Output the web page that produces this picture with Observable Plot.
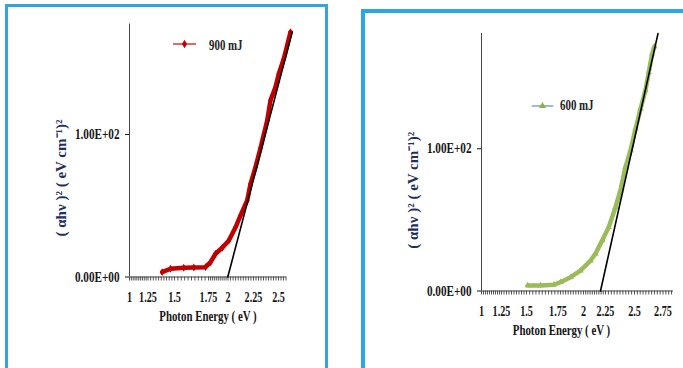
<!DOCTYPE html>
<html>
<head>
<meta charset="utf-8">
<script src="https://cdn.jsdelivr.net/npm/d3@7"></script>
<script src="https://cdn.jsdelivr.net/npm/@observablehq/plot@0.6"></script>
<style>
html, body { margin: 0; padding: 0; background: #fff; }
#page { position: relative; width: 683px; height: 368px; overflow: hidden; background: #fff; }
.panel { position: absolute; box-sizing: border-box; border: 3px solid #2ea6e6; }
#p1 { left: 5px; top: 4px; width: 323px; height: 420px; }
#p2 { left: 361px; top: 9px; width: 340px; height: 420px; border-width: 4px; }
.chart { position: absolute; top: 0; }
#c1 { left: 0; }
#c2 { left: 340px; }
#overlay { position: absolute; left: 0; top: 0; pointer-events: none; }
</style>
</head>
<body>
<div id="page">
  <div class="panel" id="p1"></div>
  <div class="panel" id="p2"></div>
  <div class="chart" id="c1"></div>
  <div class="chart" id="c2"></div>
</div>
<script>
// ---- data ----
const SERIES_LABELS = ["900 mJ", "600 mJ"];
const X_TICKS_900 = [1, 1.25, 1.5, 1.75, 2, 2.25, 2.5];
const X_TICKS_600 = [1, 1.25, 1.5, 1.75, 2, 2.25, 2.5, 2.75];
const Y_TICKS = [0, 100];
const X_TITLE = "Photon Energy ( eV )";
const Y_TITLE = "( αhν )² ( eV cm⁻¹)²";

// 900 mJ: photon energy (eV) and (αhν)²
const E900 = [1.384, 1.462, 1.568, 1.642, 1.728, 1.776, 1.84, 1.926, 2.008, 2.074, 2.123, 2.188, 2.221, 2.27, 2.32, 2.387, 2.42, 2.47, 2.503, 2.553, 2.587, 2.62];
const A900 = [3.4, 5.8, 6.5, 6.7, 6.9, 10.4, 16.3, 20.5, 25.6, 34.9, 43.2, 53.7, 65.4, 77.1, 90.5, 109.8, 123.9, 133.2, 142.6, 153.1, 162.5, 171.8];
const FIT900_E = [1.997, 2.637];
const FIT900_A = [0, 171.8];

// 600 mJ
const E600 = [1.51, 1.611, 1.717, 1.775, 1.873, 1.971, 2.08, 2.136, 2.2125, 2.278, 2.336, 2.379, 2.422, 2.466, 2.509, 2.553, 2.596, 2.625, 2.655, 2.675];
const A600 = [3.9, 3.9, 4.4, 6.2, 9.7, 14.4, 21.4, 26.2, 35.5, 44.9, 58.9, 70.7, 87.1, 98.8, 114.1, 128.1, 141.0, 153.9, 166.8, 171.9];
const FIT600_E = [2.193, 2.706];
const FIT600_A = [0, 180.9];

// ---- drawing ----
const FONT = "Liberation Serif";
const fmtE = v => {
  const [m, e] = v.toExponential(2).split("e");
  const n = +e;
  return m + "E" + (n < 0 ? "-" : "+") + String(Math.abs(n)).padStart(2, "0");
};

function makePanel(o) {
  const data = o.E.map((e, i) => ({e, a: o.A[i]}));
  const fit = o.FE.map((e, i) => ({e, a: o.FA[i]}));
  const minor = d3.range(o.ticks[0], o.xMax, 0.025);
  return Plot.plot({
    width: o.width, height: 368,
    marginLeft: o.mLeft, marginRight: o.mRight, marginTop: o.mTop, marginBottom: o.mBottom,
    style: {background: "transparent", fontFamily: FONT, fontWeight: "bold", fontSize: "14.5px", overflow: "visible"},
    x: {type: "linear", domain: o.ticks, range: o.px},
    y: {domain: [0, o.yMax]},
    marks: [
      Plot.axisX(minor, {tickSize: 4, tickFormat: () => "", color: "#555", strokeWidth: 1, label: null}),
      Plot.axisX(o.ticks, {tickSize: 0, tickPadding: 15, tickFormat: d => String(d), label: null,
        fontWeight: "bold", color: "#151515"}),
      Plot.axisY(Y_TICKS, {tickSize: 4, tickPadding: 6, tickFormat: fmtE, label: null,
        fontWeight: "bold", color: "#151515"}),
      Plot.ruleX([o.ticks[0]], {stroke: "#444", strokeWidth: 1}),
      Plot.ruleY([0], {x1: o.ticks[0], x2: o.xMax, stroke: "#444", strokeWidth: 1}),
      Plot.line(data, {x: "e", y: "a", stroke: o.color, strokeWidth: 4.5, strokeLinecap: "round", strokeLinejoin: "round"}),
      Plot.dot(data, {x: "e", y: "a", fill: o.color, r: 2.4, symbol: o.symbol}),
      Plot.line(fit, {x: "e", y: "a", stroke: "#000", strokeWidth: 1.6}),
      Plot.text([X_TITLE], {text: d => d, frameAnchor: "bottom", dy: 39, lineAnchor: "middle", textAnchor: "middle",
        fontSize: 15.5, fontWeight: "bold", fill: "#151515"}),
      Plot.text([Y_TITLE], {text: d => d, frameAnchor: "left", rotate: -90, dx: -68, dy: o.titleDy,
        lineAnchor: "middle", textAnchor: "middle",
        fontSize: 15, fontWeight: "bold", fill: "#1f2f5f"})
    ]
  });
}

const c1 = makePanel({
  width: 340, mLeft: 129, mRight: 54, mTop: 23.5, mBottom: 91.5,
  ticks: X_TICKS_900, px: [129, 147.5, 174, 208, 227.5, 253, 278], xMax: 2.58, yMax: 177.5,
  E: E900, A: A900, FE: FIT900_E, FA: FIT900_A, color: "#c00000", symbol: "diamond", titleDy: 27.5
});
const c2 = makePanel({
  width: 343, mLeft: 141, mRight: 42, mTop: 33, mBottom: 77.5,
  ticks: X_TICKS_600, px: [481, 501, 526, 557.5, 583, 605, 634, 662.5].map(p => p - 340), xMax: 2.842, yMax: 181,
  E: E600, A: A600, FE: FIT600_E, FA: FIT600_A, color: "#9bbb59", symbol: "triangle", titleDy: 28
});
document.getElementById("c1").appendChild(c1);
document.getElementById("c2").appendChild(c2);

// legends (overlay)
const overlay = d3.select("#page").append("svg").attr("id", "overlay").attr("width", 683).attr("height", 368);
const legends = [
  {label: SERIES_LABELS[0], x0: 173, x1: 196, y: 44, line: "#d53a3a", mark: "#c00000", sym: d3.symbolDiamond, tx: 209, ty: 50},
  {label: SERIES_LABELS[1], x0: 531.7, x1: 553.3, y: 106, line: "#7ea3d6", mark: "#8db43e", sym: d3.symbolTriangle, tx: 560, ty: 110}
];
for (const l of legends) {
  overlay.append("line").attr("x1", l.x0).attr("x2", l.x1).attr("y1", l.y).attr("y2", l.y)
    .attr("stroke", l.line).attr("stroke-width", 1.5);
  overlay.append("path").attr("d", d3.symbol(l.sym, 22)())
    .attr("transform", `translate(${(l.x0 + l.x1) / 2},${l.y})`).attr("fill", l.mark);
  overlay.append("text").attr("class", "legtext").attr("x", l.tx).attr("y", l.ty)
    .attr("font-family", FONT).attr("font-weight", "bold").attr("font-size", 14.5).attr("fill", "#222")
    .text(l.label);
}

// condense serif text like the original narrow bold font
function condenseEl(t, f) {
  const w = t.getComputedTextLength();
  if (w > 0) {
    t.setAttribute("textLength", (w * f).toFixed(2));
    t.setAttribute("lengthAdjust", "spacingAndGlyphs");
  }
}
for (const svg of [c1, c2]) {
  svg.querySelectorAll('g[aria-label="x-axis tick label"] text').forEach(t => condenseEl(t, 0.7));
  svg.querySelectorAll('g[aria-label="y-axis tick label"] text').forEach(t => condenseEl(t, 0.77));
  svg.querySelectorAll("text").forEach(t => { if (t.textContent === X_TITLE) condenseEl(t, 0.7); });
}
document.querySelectorAll("#overlay text.legtext").forEach(t => condenseEl(t, 0.75));
</script>
</body>
</html>
